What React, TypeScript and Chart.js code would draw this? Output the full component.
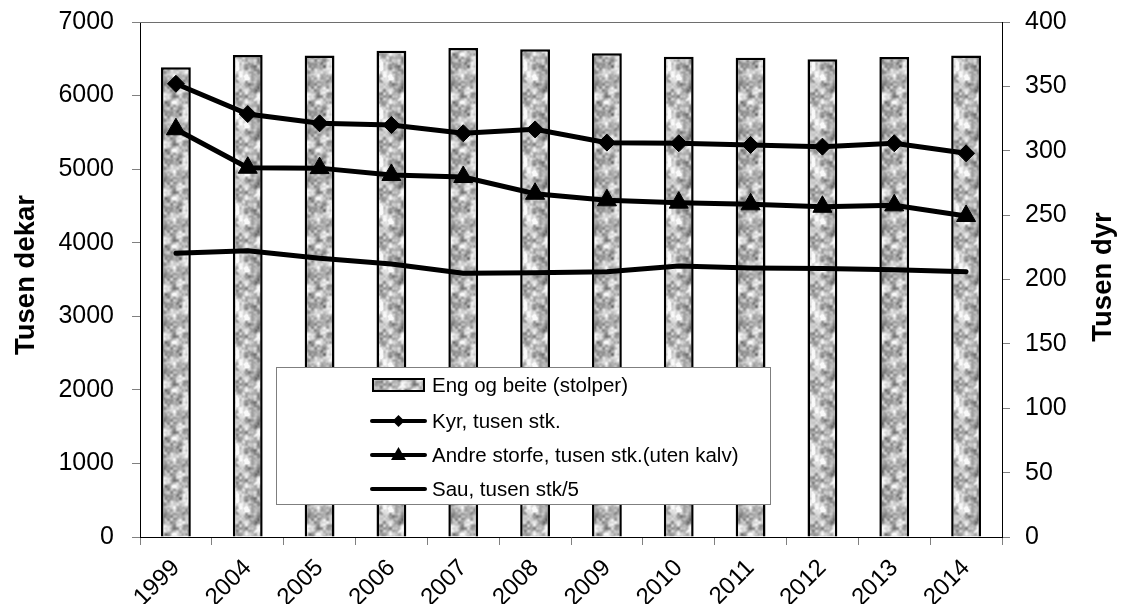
import React, { useEffect, useRef } from "react";
import { Chart, registerables } from "chart.js";

Chart.register(...registerables);

const years = ["1999", "2004", "2005", "2006", "2007", "2008", "2009", "2010", "2011", "2012", "2013", "2014"];
const engOgBeite = [6385, 6550, 6545, 6610, 6645, 6630, 6575, 6528, 6515, 6495, 6525, 6543];
const kyr = [352, 328.5, 321.3, 320, 313.6, 316.6, 306.3, 305.8, 304.5, 303.2, 305.8, 298];
const andreStorfe = [316.7, 286.8, 286.5, 281.2, 279.6, 266.6, 261.5, 259.7, 258.4, 256.5, 257.6, 249.3];
const sau = [220.3, 222.4, 216.5, 212, 204.8, 205.3, 206, 210.5, 209, 208.5, 207.5, 206];

const legendLabels = [
  "Eng og beite (stolper)",
  "Kyr, tusen stk.",
  "Andre storfe, tusen stk.(uten kalv)",
  "Sau, tusen stk/5",
];

const FONT = "'Liberation Sans', Arial, Helvetica, sans-serif";

function hash(i: number, j: number): number {
  let n = Math.imul(i, 374761393) + Math.imul(j, 668265263);
  n = Math.imul(n ^ (n >>> 13), 1274126177);
  n = n ^ (n >>> 16);
  return (n >>> 0) / 4294967295;
}

function makePatternCanvas(): HTMLCanvasElement {
  const size = 48;
  const c = document.createElement("canvas");
  c.width = size;
  c.height = size;
  const ctx = c.getContext("2d")!;
  const img = ctx.createImageData(size, size);
  const noise = (x: number, y: number, cell: number, seed: number) => {
    const g = size / cell;
    const gx = x / cell, gy = y / cell;
    const x0 = Math.floor(gx), y0 = Math.floor(gy);
    const fx = gx - x0, fy = gy - y0;
    const sx = fx * fx * (3 - 2 * fx), sy = fy * fy * (3 - 2 * fy);
    const v = (a: number, b: number) => hash(((a % g) + g) % g + seed, ((b % g) + g) % g + seed * 7);
    const a = v(x0, y0), b = v(x0 + 1, y0), cc = v(x0, y0 + 1), d = v(x0 + 1, y0 + 1);
    return (a * (1 - sx) + b * sx) * (1 - sy) + (cc * (1 - sx) + d * sx) * sy;
  };
  for (let y = 0; y < size; y++) {
    for (let x = 0; x < size; x++) {
      const n = 0.55 * noise(x, y, 6, 3) + 0.35 * noise(x, y, 3, 11) + 0.1 * noise(x, y, 2, 17);
      const t = Math.min(1, Math.max(0, (n - 0.5) * 1.6 + 0.6));
      const val = Math.round(105 + t * 145);
      const k = (y * size + x) * 4;
      img.data[k] = val;
      img.data[k + 1] = val;
      img.data[k + 2] = val;
      img.data[k + 3] = 255;
    }
  }
  ctx.putImageData(img, 0, 0);
  return c;
}

export default function App() {
  const ref = useRef<HTMLCanvasElement>(null);

  useEffect(() => {
    const canvas = ref.current;
    if (!canvas) return;
    const ctx = canvas.getContext("2d")!;
    const patCanvas = makePatternCanvas();
    const pattern = ctx.createPattern(patCanvas, "repeat")!;

    const overlay = {
      id: "overlay",
      afterDraw(chart: any) {
        const c = chart.ctx;
        const area = chart.chartArea;
        c.save();
        // top border
        c.strokeStyle = "#6e6e6e";
        c.lineWidth = 1;
        c.beginPath();
        c.moveTo(area.left, Math.round(area.top) + 0.5);
        c.lineTo(area.right, Math.round(area.top) + 0.5);
        c.stroke();

        // axis titles
        c.fillStyle = "#000";
        c.font = `bold 27.5px ${FONT}`;
        c.textAlign = "center";
        c.textBaseline = "alphabetic";
        c.save();
        c.translate(34, 275);
        c.rotate(-Math.PI / 2);
        c.fillText("Tusen dekar", 0, 0);
        c.restore();
        c.save();
        c.translate(1111, 277);
        c.rotate(-Math.PI / 2);
        c.fillText("Tusen dyr", 0, 0);
        c.restore();

        // legend box
        const bx = 276, by = 367, bw = 494, bh = 137;
        c.fillStyle = "#fff";
        c.fillRect(bx, by, bw, bh);
        c.strokeStyle = "#7f7f7f";
        c.lineWidth = 1;
        c.strokeRect(bx + 0.5, by + 0.5, bw, bh);

        const rows = [385, 421, 455, 489];
        const sx0 = 372, sx1 = 425, tx = 432;
        // bar symbol
        c.fillStyle = pattern;
        c.fillRect(sx0, rows[0] - 7, sx1 - sx0, 14);
        c.strokeStyle = "#000";
        c.lineWidth = 2;
        c.strokeRect(sx0 + 1, rows[0] - 6, sx1 - sx0 - 2, 12);
        // line symbols
        c.lineWidth = 4;
        c.lineCap = "round";
        for (let i = 1; i < 4; i++) {
          c.beginPath();
          c.moveTo(sx0, rows[i]);
          c.lineTo(sx1, rows[i]);
          c.stroke();
        }
        const mx = (sx0 + sx1) / 2;
        c.fillStyle = "#000";
        c.beginPath();
        c.moveTo(mx - 6, rows[1]);
        c.lineTo(mx, rows[1] - 6);
        c.lineTo(mx + 6, rows[1]);
        c.lineTo(mx, rows[1] + 6);
        c.closePath();
        c.fill();
        c.beginPath();
        c.moveTo(mx, rows[2] - 8);
        c.lineTo(mx + 7.5, rows[2] + 5);
        c.lineTo(mx - 7.5, rows[2] + 5);
        c.closePath();
        c.fill();
        // legend texts
        c.font = `20.5px ${FONT}`;
        c.textAlign = "left";
        c.textBaseline = "middle";
        legendLabels.forEach((t, i) => c.fillText(t, tx, rows[i] + 1));
        c.restore();
      },
    };

    const tickFont = { family: FONT, size: 25 };
    const plain = (v: any) => String(v);
    const fixY = (w: number) => (s: any) => {
      s.width = w;
      s.paddingTop = 0;
      s.paddingBottom = 0;
    };

    const chart = new Chart(canvas, {
      type: "bar",
      data: {
        labels: years,
        datasets: [
          {
            type: "line",
            label: legendLabels[1],
            data: kyr,
            yAxisID: "y1",
            borderColor: "#000",
            backgroundColor: "#000",
            borderWidth: 5,
            pointStyle: "rectRot",
            pointRadius: 8.5,
            pointBorderWidth: 1,
            pointBackgroundColor: "#000",
            pointBorderColor: "#000",
            tension: 0,
            order: 1,
          },
          {
            type: "line",
            label: legendLabels[2],
            data: andreStorfe,
            yAxisID: "y1",
            borderColor: "#000",
            backgroundColor: "#000",
            borderWidth: 5,
            pointStyle: "triangle",
            pointRadius: 11,
            pointBorderWidth: 1,
            pointBackgroundColor: "#000",
            pointBorderColor: "#000",
            tension: 0,
            order: 2,
          },
          {
            type: "line",
            label: legendLabels[3],
            data: sau,
            yAxisID: "y1",
            borderColor: "#000",
            borderWidth: 5,
            borderCapStyle: "round",
            pointRadius: 0,
            tension: 0,
            order: 3,
          },
          {
            type: "bar",
            label: legendLabels[0],
            data: engOgBeite,
            yAxisID: "y",
            backgroundColor: pattern as any,
            borderColor: "#000",
            borderWidth: 2.5,
            categoryPercentage: 1,
            barPercentage: 0.415,
            order: 10,
          },
        ],
      },
      options: {
        responsive: false,
        animation: false,
        devicePixelRatio: 1,
        layout: { padding: { top: 22, left: 0, right: 0, bottom: 0 } },
        plugins: {
          legend: { display: false },
          tooltip: { enabled: false },
          title: { display: false },
        },
        scales: {
          x: {
            offset: true,
            grid: {
              display: true,
              offset: true,
              drawOnChartArea: false,
              drawTicks: true,
              tickLength: 8,
              color: "#808080",
            },
            border: { display: true, color: "#000", width: 1 },
            ticks: {
              font: { family: FONT, size: 24 },
              color: "#000",
              minRotation: 45,
              maxRotation: 45,
              autoSkip: false,
              padding: 9,
            },
            afterFit: (s: any) => {
              s.height = 67;
              s.paddingLeft = 0;
              s.paddingRight = 0;
            },
          },
          y: {
            position: "left",
            min: 0,
            max: 7000,
            ticks: { stepSize: 1000, font: tickFont, color: "#000", padding: 18, callback: plain },
            grid: { drawOnChartArea: false, tickLength: 8, color: "#808080" },
            border: { display: true, color: "#000", width: 1 },
            afterFit: fixY(140),
          },
          y1: {
            position: "right",
            min: 0,
            max: 400,
            ticks: { stepSize: 50, font: tickFont, color: "#000", padding: 15, callback: plain },
            grid: { drawOnChartArea: false, tickLength: 8, color: "#808080" },
            border: { display: true, color: "#000", width: 1 },
            afterFit: fixY(121),
          },
        },
      },
      plugins: [overlay],
    });

    return () => chart.destroy();
  }, []);

  return (
    <div style={{ position: "absolute", left: 0, top: 0, width: 1123, height: 604, background: "#fff" }}>
      <canvas ref={ref} width={1123} height={604} style={{ display: "block" }} />
    </div>
  );
}
